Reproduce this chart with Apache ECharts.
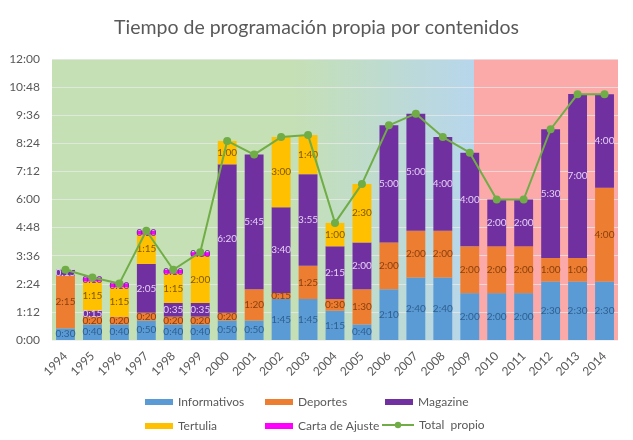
<!DOCTYPE html>
<html><head><meta charset="utf-8">
<script src="https://cdn.jsdelivr.net/npm/echarts@6/dist/echarts.min.js"></script>
<style>html,body{margin:0;padding:0;background:#fff}#c{width:633px;height:440px}</style>
</head><body><div id="c"></div>
<script>
// values in minutes
const years = ['1994','1995','1996','1997','1998','1999','2000','2001','2002','2003','2004','2005','2006','2007','2008','2009','2010','2011','2012','2013','2014'];
const informativos = [30,40,40,50,40,40,50,50,105,105,75,40,130,160,160,120,120,120,150,150,150];
const deportes     = [135,20,20,20,20,20,20,80,15,85,30,90,120,120,120,120,120,120,60,60,240];
const magazine     = [15,15,0,125,35,35,380,345,220,235,135,120,300,300,240,240,120,120,330,420,240];
const tertulia     = [0,75,75,75,75,120,60,0,180,100,60,150,0,0,0,0,0,0,0,0,0];
const carta        = [0,10,10,10,10,10,0,0,0,0,0,0,0,0,0,0,0,0,0,0,0];
const total        = [180,160,145,280,180,225,510,475,520,525,300,400,550,580,520,480,360,360,540,630,630];
const yTicks = ['0:00','1:12','2:24','3:36','4:48','6:00','7:12','8:24','9:36','10:48','12:00'];

const FONT = 'Lato';
function fmt(m){ const h=Math.floor(m/60), mm=Math.round(m-h*60); return h+':'+(mm<10?'0':'')+mm; }
function nz(a){ return a.map(v=>v===0?null:v); }

function barSeries(name, data, color, labelColor){
  return {
    name, type:'bar', stack:'t', data:nz(data), barWidth:'70%',
    itemStyle:{color},
    label:{show:true, position:'inside', fontFamily:FONT, fontSize:10, color:labelColor,
      formatter:p=>p.value==null?'':fmt(p.value)},
    labelLayout:{hideOverlap:false}
  };
}

const chart = echarts.init(document.getElementById('c'));
const legendCommon = {itemWidth:28, itemHeight:6, textStyle:{fontFamily:FONT, fontSize:12, color:'#595959'}, icon:'rect'};
chart.setOption({
  animation:false,
  title:{text:'Tiempo de programación propia por contenidos', left:'center', top:13,
    textStyle:{fontFamily:FONT, fontSize:19.5, fontWeight:'normal', color:'#595959'}},
  grid:{left:52, right:15, top:59, bottom:100,
    show:true, borderWidth:0,
    backgroundColor:{type:'linear', x:0, y:0, x2:1, y2:0, colorStops:[
      {offset:0, color:'#c5e0b4'},
      {offset:0.42, color:'#c5e0b4'},
      {offset:0.745, color:'#b7d6ec'},
      {offset:0.745, color:'#fba9a9'},
      {offset:1, color:'#fba9a9'}]}},
  legend:[
    Object.assign({data:['Informativos'], left:140, top:391}, legendCommon),
    Object.assign({data:['Deportes'], left:260, top:391}, legendCommon),
    Object.assign({data:['Magazine'], left:380, top:391}, legendCommon),
    Object.assign({data:['Tertulia'], left:140, top:415}, legendCommon),
    Object.assign({data:['Carta de Ajuste'], left:260, top:415}, legendCommon),
    Object.assign({}, legendCommon, {data:['Total  propio'], left:376, top:414, icon:null, itemWidth:32, itemHeight:8})
  ],
  xAxis:{type:'category', data:years, boundaryGap:true,
    axisLine:{show:false}, axisTick:{show:false},
    axisLabel:{rotate:45, fontFamily:FONT, fontSize:12, color:'#595959', margin:14, interval:0}},
  yAxis:{type:'value', min:0, max:720, interval:72,
    axisLine:{show:false}, axisTick:{show:false},
    splitLine:{lineStyle:{color:'rgba(235,235,235,0.7)', width:1}},
    axisLabel:{fontFamily:FONT, fontSize:12, color:'#595959', margin:12,
      formatter:(v)=>yTicks[Math.round(v/72)]}},
  series:[
    barSeries('Informativos', informativos, '#5b9bd5', '#2e5f8f'),
    barSeries('Deportes', deportes, '#ed7d31', '#8a3f0e'),
    barSeries('Magazine', magazine, '#7030a0', '#e6d0f5'),
    barSeries('Tertulia', tertulia, '#ffc000', '#7f5a00'),
    barSeries('Carta de Ajuste', carta, '#ff00ff', '#7030a0'),
    {name:'Total  propio', type:'line', data:total, z:10,
      lineStyle:{color:'#70ad47', width:2}, itemStyle:{color:'#70ad47'},
      symbol:'circle', symbolSize:8, showSymbol:true}
  ]
});
</script></body></html>
